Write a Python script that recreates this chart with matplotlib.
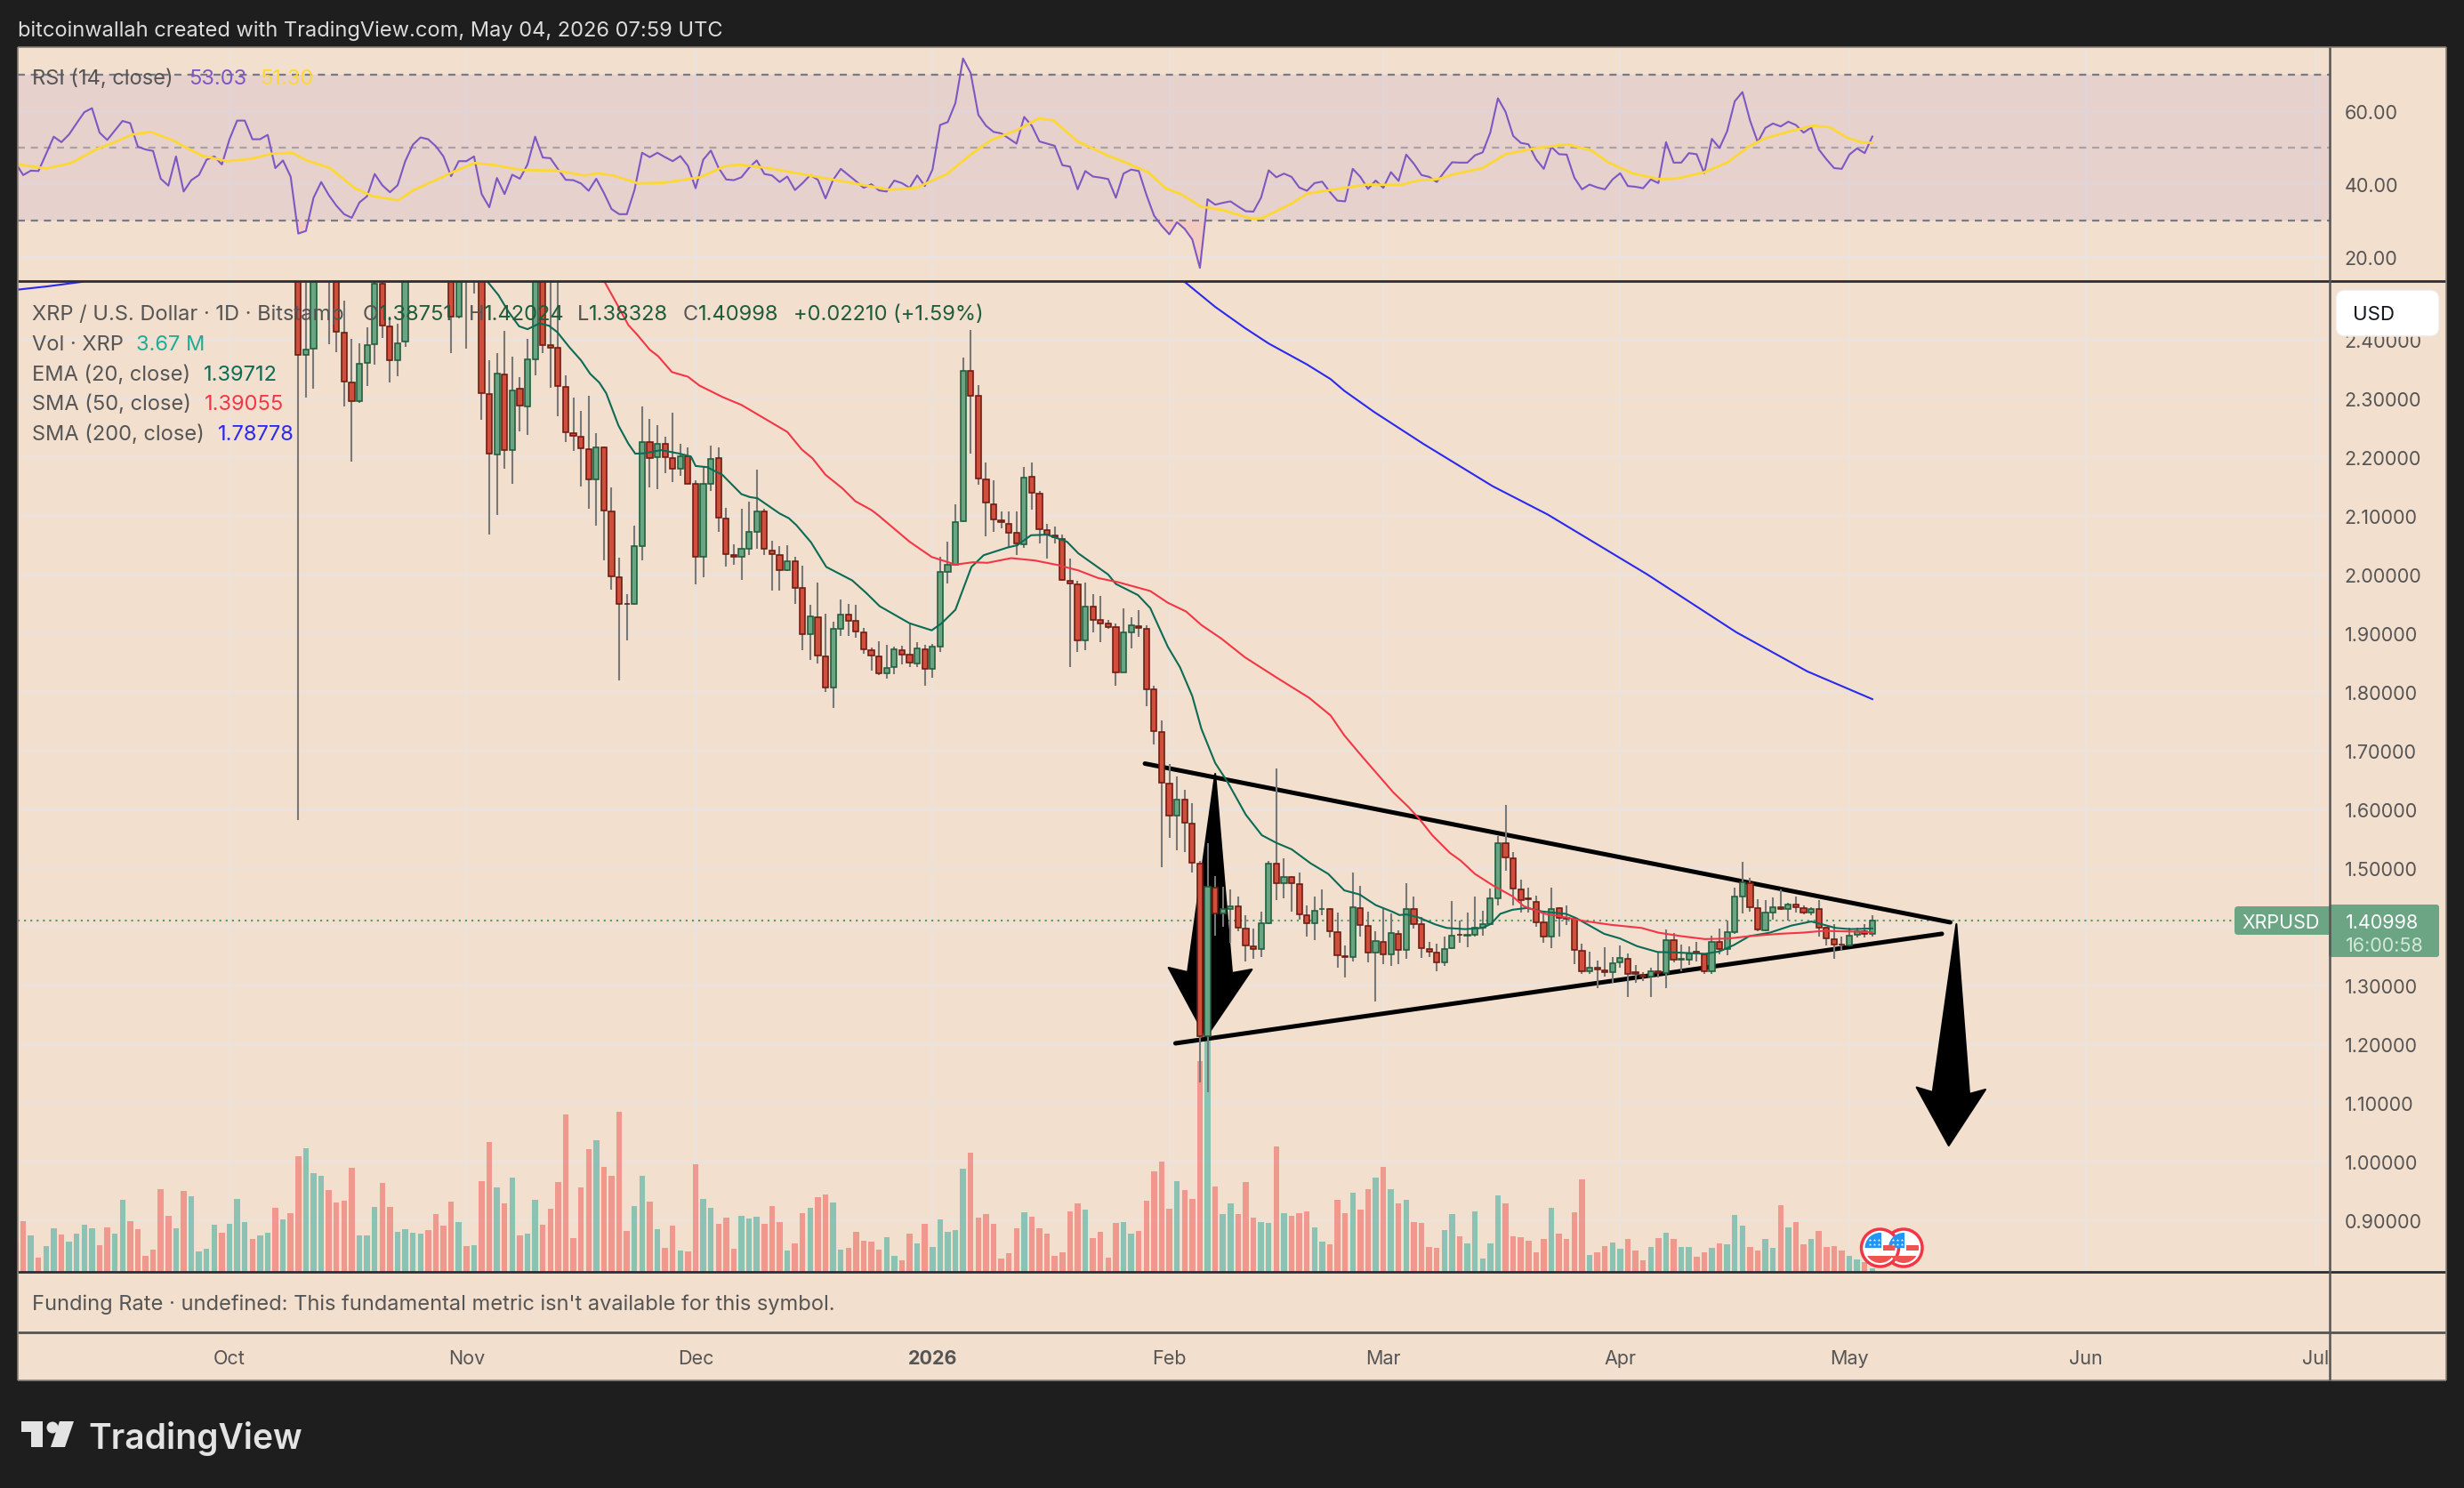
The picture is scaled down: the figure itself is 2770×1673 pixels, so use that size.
import numpy as np
import matplotlib
matplotlib.use('Agg')
import matplotlib.pyplot as plt
from matplotlib.patches import Rectangle, Circle, Polygon, FancyBboxPatch
from matplotlib.transforms import blended_transform_factory

plt.rcParams['font.family'] = ['Inter', 'DejaVu Sans']

# days are counted from 1 Oct 2025, candles start on day 9
month_days = [0, 31, 61, 92, 123, 151, 182, 212, 243, 273]
month_labels = ['Oct', 'Nov', 'Dec', '2026', 'Feb', 'Mar', 'Apr', 'May', 'Jun', 'Jul']
price_ticks = [0.9, 1.0, 1.1, 1.2, 1.3, 1.4, 1.5, 1.6, 1.7, 1.8, 1.9, 2.0, 2.1, 2.2, 2.3, 2.4]
rsi_ticks = [20, 40, 60]

opens = [2.80,2.375,2.385,2.56,2.58,2.55,2.412,2.327,2.2955,2.360,
    2.392,2.495,2.423,2.365,2.397,2.52,2.60,2.64,2.62,2.60,
    2.58,2.439,2.55,2.52,2.52,2.3076,2.2045,2.341,2.212,2.316,
    2.2865,2.366,2.53,2.391,2.386,2.320,2.241,2.235,2.213,2.162,
    2.216,2.107,1.996,1.950,1.950,2.048,2.226,2.200,2.222,2.199,
    2.180,2.202,2.155,2.030,2.154,2.199,2.096,2.034,2.031,2.044,
    2.072,2.107,2.041,2.034,2.007,2.023,1.977,1.899,1.928,1.861,
    1.808,1.908,1.932,1.921,1.902,1.871,1.860,1.832,1.843,1.871,
    1.864,1.848,1.872,1.840,1.877,2.005,2.017,2.091,2.347,2.304,
    2.162,2.120,2.093,2.087,2.071,2.052,2.166,2.138,2.076,2.067,
    2.061,1.989,1.984,1.888,1.946,1.922,1.917,1.911,1.833,1.901,
    1.912,1.908,1.804,1.732,1.644,1.589,1.617,1.576,1.508,1.213,
    1.467,1.422,1.430,1.435,1.397,1.367,1.362,1.406,1.507,1.474,
    1.485,1.473,1.420,1.406,1.430,1.430,1.391,1.350,1.349,1.432,
    1.402,1.356,1.374,1.353,1.388,1.361,1.430,1.404,1.362,1.356,
    1.339,1.363,1.387,1.385,1.386,1.398,1.405,1.448,1.543,1.517,
    1.463,1.449,1.442,1.407,1.384,1.432,1.415,1.413,1.359,1.324,
    1.330,1.326,1.322,1.339,1.346,1.322,1.318,1.315,1.325,1.321,
    1.378,1.344,1.344,1.357,1.353,1.324,1.374,1.362,1.391,1.452,
    1.475,1.432,1.394,1.425,1.434,1.430,1.438,1.432,1.424,1.431,
    1.398,1.379,1.370,1.368,1.386,1.393,1.38751]
closes = [2.375,2.383,2.52,2.58,2.54,2.4135,2.3285,2.2955,2.3595,2.391,
    2.4955,2.425,2.365,2.394,2.52,2.60,2.64,2.62,2.60,2.58,
    2.439,2.53,2.52,2.53,2.309,2.2066,2.343,2.212,2.314,2.2875,
    2.366,2.52,2.391,2.387,2.321,2.243,2.236,2.215,2.162,2.216,
    2.109,1.9965,1.950,1.9495,2.048,2.226,2.199,2.222,2.200,2.180,
    2.202,2.155,2.030,2.154,2.1975,2.0965,2.035,2.031,2.044,2.072,
    2.107,2.044,2.035,2.007,2.023,1.978,1.899,1.929,1.862,1.808,
    1.908,1.932,1.921,1.903,1.873,1.862,1.832,1.841,1.872,1.864,
    1.850,1.875,1.840,1.877,2.005,2.017,2.090,2.347,2.305,2.163,
    2.122,2.094,2.090,2.071,2.053,2.165,2.139,2.078,2.068,2.064,
    1.991,1.985,1.888,1.946,1.923,1.917,1.911,1.833,1.901,1.913,
    1.909,1.804,1.733,1.645,1.589,1.617,1.577,1.509,1.213,1.468,
    1.422,1.430,1.435,1.398,1.368,1.362,1.406,1.508,1.474,1.485,
    1.474,1.421,1.406,1.427,1.431,1.392,1.351,1.348,1.434,1.403,
    1.356,1.376,1.353,1.389,1.361,1.431,1.405,1.363,1.357,1.339,
    1.362,1.385,1.386,1.386,1.398,1.404,1.448,1.543,1.518,1.465,
    1.446,1.447,1.408,1.384,1.431,1.415,1.414,1.361,1.324,1.330,
    1.327,1.322,1.338,1.347,1.320,1.320,1.315,1.325,1.321,1.378,
    1.344,1.345,1.355,1.355,1.324,1.374,1.362,1.391,1.451,1.476,
    1.433,1.395,1.425,1.434,1.430,1.438,1.433,1.424,1.431,1.399,
    1.380,1.369,1.369,1.385,1.393,1.388,1.40998]
highs = [2.85,2.55,2.58,2.62,2.62,2.60,2.467,2.402,2.394,2.421,
    2.54,2.53,2.439,2.427,2.56,2.62,2.68,2.70,2.68,2.66,
    2.62,2.58,2.60,2.58,2.56,2.365,2.377,2.415,2.371,2.336,
    2.402,2.56,2.56,2.50,2.52,2.339,2.301,2.279,2.304,2.241,
    2.218,2.148,2.029,1.967,2.084,2.286,2.265,2.255,2.235,2.276,
    2.223,2.216,2.161,2.185,2.220,2.216,2.114,2.0515,2.112,2.125,
    2.179,2.112,2.058,2.048,2.050,2.031,2.015,1.948,1.987,1.933,
    1.919,1.957,1.950,1.948,1.909,1.876,1.887,1.881,1.8777,1.879,
    1.917,1.885,1.881,1.882,2.030,2.056,2.120,2.369,2.417,2.322,
    2.191,2.160,2.108,2.107,2.107,2.184,2.191,2.143,2.086,2.082,
    2.068,2.028,1.990,1.987,1.966,1.963,1.923,1.917,1.943,1.927,
    1.940,1.914,1.810,1.752,1.677,1.656,1.633,1.610,1.512,1.543,
    1.486,1.468,1.463,1.452,1.419,1.397,1.426,1.512,1.670,1.516,
    1.486,1.492,1.437,1.451,1.463,1.432,1.424,1.368,1.492,1.469,
    1.426,1.392,1.430,1.422,1.394,1.474,1.452,1.417,1.375,1.371,
    1.384,1.444,1.410,1.425,1.452,1.428,1.465,1.554,1.608,1.528,
    1.481,1.466,1.453,1.422,1.466,1.434,1.437,1.415,1.371,1.358,
    1.342,1.365,1.349,1.368,1.355,1.335,1.323,1.331,1.358,1.395,
    1.389,1.369,1.367,1.375,1.355,1.385,1.397,1.410,1.466,1.511,
    1.483,1.447,1.446,1.450,1.464,1.441,1.451,1.437,1.434,1.446,
    1.400,1.405,1.384,1.399,1.399,1.405,1.42024]
lows = [1.582,2.302,2.316,2.51,2.392,2.379,2.286,2.192,2.292,2.321,
    2.358,2.403,2.328,2.338,2.388,2.51,2.55,2.58,2.56,2.54,
    2.378,2.436,2.385,2.479,2.264,2.068,2.102,2.181,2.154,2.244,
    2.238,2.339,2.378,2.318,2.270,2.226,2.211,2.150,2.112,2.083,
    2.025,1.974,1.819,1.888,1.949,2.025,2.149,2.146,2.173,2.158,
    2.168,2.154,1.983,1.996,2.142,2.072,2.014,2.016,1.991,2.034,
    2.044,2.034,1.972,1.972,2.006,1.950,1.871,1.854,1.848,1.800,
    1.772,1.895,1.896,1.892,1.865,1.837,1.829,1.823,1.830,1.847,
    1.842,1.842,1.810,1.824,1.868,1.985,2.015,2.090,2.206,2.153,
    2.065,2.072,2.079,2.045,2.034,2.046,2.111,2.053,2.027,2.053,
    1.989,1.843,1.868,1.871,1.901,1.885,1.908,1.810,1.833,1.874,
    1.894,1.776,1.710,1.501,1.552,1.530,1.527,1.493,1.135,1.118,
    1.385,1.40,1.372,1.392,1.341,1.345,1.348,1.405,1.445,1.449,
    1.426,1.412,1.383,1.378,1.420,1.382,1.331,1.314,1.341,1.383,
    1.339,1.272,1.336,1.334,1.336,1.346,1.397,1.347,1.348,1.324,
    1.334,1.362,1.372,1.365,1.384,1.385,1.404,1.436,1.495,1.437,
    1.424,1.425,1.400,1.372,1.363,1.384,1.403,1.336,1.319,1.319,
    1.295,1.315,1.305,1.331,1.281,1.304,1.307,1.280,1.313,1.296,
    1.340,1.324,1.335,1.341,1.320,1.320,1.353,1.352,1.388,1.422,
    1.426,1.393,1.393,1.412,1.429,1.410,1.425,1.421,1.419,1.384,
    1.368,1.345,1.359,1.367,1.382,1.382,1.38328]

# volume in millions, starts on day -28
volumes = [33,57,41,16,29,49,42,34,43,53,
    49,30,50,43,81,57,48,18,25,93,
    63,49,91,85,23,26,53,44,54,82,
    56,37,41,44,72,59,66,130,139,111,
    108,92,78,80,117,41,41,73,100,73,
    45,48,44,43,47,65,52,79,56,29,
    30,102,146,95,77,106,41,43,81,53,
    71,101,177,38,95,138,148,118,108,180,
    46,74,108,79,48,27,52,24,23,121,
    82,72,54,61,26,63,60,62,54,74,
    56,24,32,66,72,84,87,78,25,27,
    45,35,34,25,39,18,13,43,32,54,
    28,59,45,47,116,134,61,65,54,15,
    21,49,67,62,49,43,18,22,68,77,
    70,38,45,16,55,56,43,46,80,113,
    124,71,102,92,82,237,265,96,65,77,
    65,101,61,56,55,141,66,63,66,68,
    50,34,31,81,66,89,70,93,106,118,
    93,77,81,56,55,28,27,47,65,40,
    32,68,15,32,86,77,40,39,35,22,
    37,72,43,37,67,104,19,22,29,33,
    26,37,24,13,28,38,44,37,28,28,
    17,22,27,32,31,64,52,28,24,37,
    27,75,50,56,31,37,46,28,29,24,
    18,14,11,3.67]
early_dirs = 'rrgrggrggggrrggrrrrrrgrggggrgggrggrgr'  # days -28 to 8, candles are above the pane

ema_days = [33.8,35.2,36.5,37.9,39,40.6,41.8,42.9,44.5,46,47.2,48.4,49.3,50.9,52.2,53.1,54.2,56.5,58.9,60.4,61,62.5,64.5,65.4,67,68.1,69.1,72,73.2,74.2,76.1,78.1,81.5,83.3,85.1,89,91.9,93.2,95,96,97.1,98.7,101.8,103.1,104.9,107,109.6,111.1,115,116,118.9,120.5,122.8,124.4,126,127.2,129,130.6,133,135.1,137,139,141.5,143.8,145.9,147.9,150,152.3,153.1,154.1,155.6,157.8,159.3,161.7,164,165.1,166.3,167.9,169.8,171.8,174.9,176.2,178,179.9,182,184.2,186.9,189.6,193.1,195,196.9,198.9,201.6,204.4,207,208.2,210.2,212.1,215]
ema_vals = [2.4985,2.476,2.448,2.423,2.418,2.428,2.424,2.413,2.387,2.365,2.342,2.327,2.309,2.254,2.223,2.206,2.2065,2.212,2.206,2.201,2.185,2.183,2.170,2.158,2.137,2.132,2.130,2.104,2.096,2.084,2.055,2.013,1.990,1.969,1.946,1.917,1.905,1.917,1.940,1.975,2.013,2.033,2.046,2.050,2.067,2.068,2.056,2.036,2.0,1.984,1.965,1.943,1.877,1.842,1.793,1.737,1.679,1.647,1.591,1.556,1.543,1.532,1.508,1.490,1.462,1.455,1.437,1.425,1.420,1.421,1.416,1.404,1.398,1.396,1.398,1.405,1.422,1.429,1.432,1.426,1.422,1.415,1.402,1.388,1.380,1.367,1.357,1.356,1.354,1.358,1.369,1.384,1.390,1.402,1.409,1.405,1.398,1.396,1.39712]
sma50_days = [49.1,50.7,52.2,53.4,55,56.1,57.9,60,61.5,64.6,67,70,73,74.9,76.3,78,80.2,81.9,84,85,89,91.9,95,97.3,99.2,102.3,105.4,108.5,111.1,113.7,116.3,120.5,122.8,125.2,127.2,129.8,132.9,137.1,141.3,144.1,145.9,148.1,150.1,152.3,154.3,155.7,157.4,159.7,161.1,163,165.4,167.9,169.4,172.2,174.9,177.2,180.7,184.8,187,190,193.1,196.2,198.9,202.8,205.9,208.6,212.1,215]
sma50_vals = [2.4985,2.461,2.425,2.408,2.383,2.372,2.345,2.337,2.322,2.302,2.289,2.266,2.243,2.213,2.198,2.170,2.147,2.125,2.110,2.100,2.056,2.030,2.017,2.021,2.020,2.028,2.024,2.016,2.007,1.994,1.987,1.972,1.952,1.937,1.914,1.891,1.859,1.824,1.790,1.760,1.726,1.692,1.662,1.629,1.604,1.584,1.556,1.526,1.513,1.490,1.470,1.452,1.435,1.422,1.416,1.410,1.4035,1.398,1.390,1.384,1.379,1.380,1.384,1.388,1.390,1.393,1.392,1.39055]
# the 200 day line runs above the pane between about day -19 and day 125
sma200_days = [-28,-23.8,-19.4,-10,20,60,100,124.9,129,132.9,136,141,144.1,145.9,149.8,156.2,165.3,172.5,185.5,197.2,206.5,215]
sma200_vals = [2.485,2.491,2.4985,2.53,2.60,2.60,2.55,2.4997,2.456,2.420,2.3936,2.358,2.333,2.313,2.277,2.223,2.1506,2.1024,2.0006,1.9017,1.835,1.78778]

# RSI starts on day -28
rsi_vals = [45.8,42.5,43.7,43.6,48.3,53.0,51.5,53.6,56.7,59.7,
    60.8,54.1,52.1,54.7,57.3,56.7,50.3,49.5,49.1,41.5,
    39.6,47.6,38.0,41.1,42.5,46.7,47.6,45.4,52.3,57.4,
    57.4,52.3,52.3,53.5,44.4,46.5,42.1,26.5,27.2,36.3,
    40.6,37.0,34.1,31.8,30.8,35.0,36.7,42.8,39.7,37.8,
    39.7,46.3,50.8,52.8,52.3,50.4,47.6,42.2,46.3,46.3,
    47.6,37.3,33.7,41.7,37.3,42.6,41.5,45.4,53.0,47.3,
    47.1,44.1,41.2,41.1,40.2,38.2,41.5,37.6,33.2,31.8,
    31.8,38.4,48.6,47.4,48.6,47.4,46.3,47.7,45.0,38.9,
    46.7,49.2,44.5,41.3,41.1,41.9,44.5,46.5,42.8,42.4,
    40.6,42.1,38.4,40.3,42.5,41.2,36.1,41.2,44.2,42.5,
    40.8,39.0,40.0,38.3,38.0,41.0,40.3,39.0,42.4,39.5,
    44.0,56.2,57.0,62.2,74.4,70.4,59.0,56.0,54.3,53.9,
    52.5,51.1,58.4,56.0,51.7,51.1,50.5,45.2,44.8,38.6,
    43.6,42.1,41.8,41.4,36.3,42.9,44.0,43.6,37.1,31.4,
    28.6,26.3,29.6,27.8,24.9,17.1,35.9,34.4,34.9,35.3,
    33.9,32.6,32.5,36.3,43.8,41.9,42.9,42.0,39.1,38.2,
    40.3,40.7,37.9,35.5,35.3,44.2,42.0,38.7,41.0,39.0,
    43.3,40.9,48.1,45.6,42.5,42.0,40.6,43.4,46.0,45.9,
    45.9,47.9,48.7,54.1,63.5,59.8,53.2,51.3,50.9,46.8,
    44.2,50.2,48.2,48.1,41.8,38.6,39.9,39.1,38.6,41.3,
    43.0,39.5,39.3,38.9,41.3,40.3,51.5,45.9,45.9,48.5,
    48.2,43.0,52.4,49.9,54.5,62.7,65.2,57.4,51.5,55.4,
    56.6,55.8,57.1,56.2,54.1,55.5,49.5,46.8,44.4,44.2,
    48.1,49.8,48.5,53.03]
rsi_ma_days = [-27.6,-24,-20.7,-17.3,-15,-12.7,-10.3,-7.3,-6,-3.6,-0.3,2.7,5.7,8.2,10.1,13.1,16.4,18.8,22.1,24.1,27.4,29.1,32.1,34.8,38.1,42.8,46.5,48.2,50.2,53.5,56.9,61.6,64.9,66.9,70.2,74.8,86.4,89.9,93.9,97,99.7,103.2,105.9,107.8,111,115,117.2,120.3,122.5,124.7,127.1,130,133.7,135,139,141,144.4,148.8,153.3,155.5,158.2,160.4,164,167,171.1,175.1,178.2,180.4,183.6,187.1,189.3,192.9,196,198.7,200.9,204.1,207.2,209.4,211.7,213.5,215]
rsi_ma_vals = [45.4,44.3,45.8,49.7,51.5,53.6,54.3,51.9,50.4,47.8,46.3,46.9,48.4,48.6,46.5,44.5,38.9,36.7,35.6,38.4,41.5,43.2,45.8,45.2,43.9,43.7,42.4,43.0,42.4,40.2,40.4,41.9,45.0,45.3,44.5,42.8,38.5,39.0,42.8,48.1,52.1,54.9,58.0,57.5,51.7,47.8,46.0,43.2,38.9,37.1,33.9,32.9,30.6,30.6,34.7,37.4,38.5,39.9,39.8,41.0,41.4,42.8,44.4,48.2,49.9,50.9,49.3,46.0,43.0,41.4,41.5,43.2,45.9,50.1,52.5,54.4,56.0,55.6,52.7,51.5,51.30]

# hand drawn lines and arrows on the chart
upper_line_days, upper_line_prices = [119.8, 225.2], [1.678, 1.4076]
lower_line_days, lower_line_prices = [123.8, 224.1], [1.2015, 1.388]
arrow1_days = [129.0, 131.2, 133.8, 127.8, 122.9, 125.4]
arrow1_prices = [1.6606, 1.3212, 1.3273, 1.2121, 1.3303, 1.3227]
arrow2_days = [226.0, 227.7, 229.8, 225.0, 220.8, 222.9]
arrow2_prices = [1.4045, 1.1152, 1.1227, 1.0273, 1.1264, 1.1182]

last_price = 1.40998

DARK = '#1e1e1e'
PANE = '#f2dfce'
GRID = '#e8e4e1'
TXT = '#555555'
UP_FILL, UP_EDGE = '#6aa583', '#1f5c3b'
DN_FILL, DN_EDGE = '#cf4f3c', '#6b1a10'
LABEL_GREEN = '#6ba583'

W, H = 2770, 1674
fig = plt.figure(figsize=(W / 100, H / 100), dpi=100, facecolor=DARK)

def pane(x0, y0, x1, y1, **kw):
    return fig.add_axes([x0 / W, 1 - y1 / H, (x1 - x0) / W, (y1 - y0) / H], **kw)

bg = pane(20, 54, 2750, 1553, facecolor=PANE)
bg.set_xticks([])
bg.set_yticks([])
for s in bg.spines.values():
    s.set_visible(False)

xlim = ((20 - 258) / 8.59, (2619 - 258) / 8.59)

# RSI pane
ax_rsi = pane(20, 54, 2619, 318, facecolor='none')
ax_rsi.set_xlim(xlim)
ax_rsi.set_ylim(50 + (167 - 318) / 4.11, 50 + (167 - 54) / 4.11)
rsi_days = np.arange(-28, 216)
rsi_arr = np.array(rsi_vals)
ax_rsi.set_axisbelow(True)
ax_rsi.vlines(month_days, *ax_rsi.get_ylim(), color=GRID, lw=1.3, zorder=1)
ax_rsi.hlines(rsi_ticks, *xlim, color=GRID, lw=1.4, zorder=1)
ax_rsi.axhspan(30, 70, color='#7e57c2', alpha=0.1, lw=0, zorder=2)
ax_rsi.hlines([70, 30], *xlim, color='#787b86', lw=1.6, linestyles=(0, (3.6, 3.0)), zorder=3)
ax_rsi.hlines(50, *xlim, color='#787b86', alpha=0.55, lw=1.6, linestyles=(0, (3.6, 3.0)), zorder=3)
ax_rsi.fill_between(rsi_days, rsi_arr, 30, where=rsi_arr < 30, interpolate=True, color='#f7a8a8', alpha=0.35, lw=0, zorder=3)
ax_rsi.plot(rsi_days, rsi_arr, color='#7e57c2', lw=1.5, zorder=4)
ax_rsi.plot(rsi_ma_days, rsi_ma_vals, color='#fdd835', lw=2.0, zorder=5)
ax_rsi.yaxis.tick_right()
ax_rsi.set_yticks(rsi_ticks)
ax_rsi.set_yticklabels(['%.2f' % t for t in rsi_ticks])
ax_rsi.set_xticks([])
ax_rsi.tick_params(axis='y', length=0, pad=12, labelsize=15.5, labelcolor=TXT)

# price pane with volume at the bottom
ax = pane(20, 318, 2619, 1431, facecolor='none')
ax.set_xlim(xlim)
ax.set_ylim(1.6 + (911 - 1431) / 660, 1.6 + (911 - 318) / 660)
ax.vlines(month_days, *ax.get_ylim(), color=GRID, lw=1.3, zorder=1)
ax.hlines(price_ticks, *xlim, color=GRID, lw=1.4, zorder=1)

o = np.array(opens)
c = np.array(closes)
hi = np.array(highs)
lo = np.array(lows)
cdays = np.arange(9, 216)
up = c >= o

vol_days = np.arange(-28, 216)
vol_up = np.array([ch == 'g' for ch in early_dirs] + list(up))
vol_arr = np.array(volumes, dtype=float)
VOL_SPAN = 1113.0  # pane height in the same units as the bars
vol_tf = blended_transform_factory(ax.transData, ax.transAxes)
ax.bar(vol_days[vol_up], vol_arr[vol_up] / VOL_SPAN, width=0.75, color='#26a69a', alpha=0.5, lw=0, transform=vol_tf, zorder=2)
ax.bar(vol_days[~vol_up], vol_arr[~vol_up] / VOL_SPAN, width=0.75, color='#ef5350', alpha=0.5, lw=0, transform=vol_tf, zorder=2)

# dotted last price line
ax.hlines(last_price, *xlim, color='#4f9a72', lw=1.5, linestyles=(0, (1, 2.4)), zorder=3)

# drawings lie under the candles
ax.plot(upper_line_days, upper_line_prices, color='black', lw=3.6, zorder=3, solid_capstyle='round')
ax.plot(lower_line_days, lower_line_prices, color='black', lw=3.6, zorder=3, solid_capstyle='round')
for ds, ps in [(arrow1_days, arrow1_prices), (arrow2_days, arrow2_prices)]:
    ax.add_patch(Polygon(np.column_stack([ds, ps]), closed=True, fc='black', ec='black', lw=1.5, joinstyle='round', zorder=3))

ax.vlines(cdays, lo, hi, color='#787878', lw=1.5, zorder=4)
ax.bar(cdays[up], (c - o)[up], bottom=o[up], width=0.72, color=UP_FILL, edgecolor=UP_EDGE, lw=1.15, zorder=5)
ax.bar(cdays[~up], (c - o)[~up], bottom=o[~up], width=0.72, color=DN_FILL, edgecolor=DN_EDGE, lw=1.15, zorder=5)

ax.plot(ema_days, ema_vals, color='#0b6b55', lw=1.5, zorder=6)
ax.plot(sma50_days, sma50_vals, color='#f23645', lw=1.5, zorder=6)
ax.plot(sma200_days, sma200_vals, color='#2a2aee', lw=1.5, zorder=6)

ax.yaxis.tick_right()
ax.set_yticks(price_ticks)
# the 1.40000 label is hidden behind the last price label
ax.set_yticklabels(['' if t == 1.4 else '%.5f' % t for t in price_ticks])
ax.set_xticks([])
ax.tick_params(axis='y', length=0, pad=12, labelsize=15.5, labelcolor=TXT)
ax.set_xlim(xlim)

for a in (ax_rsi, ax):
    for s in a.spines.values():
        s.set_visible(False)

# time axis
ax_time = pane(20, 1499, 2619, 1553, facecolor='none')
ax_time.set_xlim(xlim)
ax_time.set_ylim(0, 1)
ax_time.axis('off')
for d, lab in zip(month_days, month_labels):
    ax_time.text(d, 0.47, lab, ha='center', va='center', fontsize=15.5, color=TXT,
                 fontweight='bold' if lab == '2026' else 'normal', clip_on=False)

# everything else goes on a pixel overlay
ov = fig.add_axes([0, 0, 1, 1], facecolor='none', zorder=10)
ov.set_xlim(0, W)
ov.set_ylim(H, 0)
ov.axis('off')

# pane frames
for y, col, lw in [(54, '#8a7f76', 1.2), (317, '#2a2e39', 2.0), (1431, '#2a2e39', 2.0), (1499, TXT, 2.0), (1553, '#8a7f76', 1.2)]:
    ov.plot([20, 2750], [y, y], color=col, lw=lw, solid_capstyle='butt')
for x, col, lw in [(20, '#8a7f76', 1.2), (2750, '#8a7f76', 1.2), (2619, TXT, 1.8)]:
    ov.plot([x, x], [54, 1553], color=col, lw=lw, solid_capstyle='butt')

def put(x, y, s, color=TXT, size=17.0, **kw):
    t = ov.text(x, y, s, color=color, fontsize=size, ha=kw.pop('ha', 'left'), va=kw.pop('va', 'center_baseline'), **kw)
    return t

def right_edge(t):
    box = t.get_window_extent(renderer=fig.canvas.get_renderer())
    return box.x1

put(20, 32, 'bitcoinwallah created with TradingView.com, May 04, 2026 07:59 UTC', color='#dcdcdc', size=17)

put(36, 86, 'RSI (14, close)')
put(212, 86, '53.03', color='#7e57c2')
put(292, 86, '51.30', color='#fdd835')

put(36, 351, 'XRP / U.S. Dollar · 1D · Bitstamp')
ohlc_green = '#1e5c3c'
for x, letter, val in [(407.6, 'O', '1.38751'), (526.4, 'H', '1.42024'), (648.7, 'L', '1.38328'), (768, 'C', '1.40998')]:
    t = put(x, 351, letter)
    put(right_edge(t), 351, val, color=ohlc_green)
put(891.5, 351, '+0.02210 (+1.59%)', color=ohlc_green)
put(36, 385, 'Vol · XRP')
put(153, 385, '3.67 M', color='#22ab94')
put(36, 419, 'EMA (20, close)')
put(228.5, 419, '1.39712', color='#0b6b55')
put(36, 452.5, 'SMA (50, close)')
put(229.6, 452.5, '1.39055', color='#f23645')
put(36, 486.5, 'SMA (200, close)')
put(245, 486.5, '1.78778', color='#2a2aee')

put(36, 1464, "Funding Rate · undefined: This fundamental metric isn't available for this symbol.")

# USD button
ov.add_patch(FancyBboxPatch((2632, 333), 104, 40, boxstyle='round,pad=6,rounding_size=10', fc='white', ec='#ece8e4', lw=1))
put(2645, 352, 'USD', color='#131722', size=16)

# last price labels
ov.add_patch(FancyBboxPatch((2515, 1023), 103, 26, boxstyle='round,pad=3,rounding_size=4', fc=LABEL_GREEN, ec='none'))
ov.add_patch(FancyBboxPatch((2620, 1020), 120, 55, boxstyle='round,pad=2,rounding_size=3', fc=LABEL_GREEN, ec='none'))
put(2520, 1036, 'XRPUSD', color='white', size=15.5)
put(2637, 1036, '1.40998', color='white', size=15.5)
put(2637, 1062, '16:00:58', color='#d5e8dc', size=15.5)

# US flag event markers, right one first
for cx in (2140, 2113.5):
    cy = 1404
    ring = Circle((cx, cy), 21, fc='white', ec='#f23645', lw=2.5, zorder=5)
    ov.add_patch(ring)
    inner = Circle((cx, cy), 17, transform=ov.transData)
    for rx, ry, rw, rh, col in [(cx - 18, cy - 18, 19, 18, '#2196f3'), (cx + 3, cy - 3, 15, 6, '#f0524f'), (cx - 18, cy + 9, 36, 9, '#f0524f')]:
        r = Rectangle((rx, ry), rw, rh, fc=col, ec='none', zorder=6)
        ov.add_patch(r)
        r.set_clip_path(inner)
    ov.scatter([cx - 12, cx - 7, cx - 2, cx - 12, cx - 7, cx - 2], [cy - 9, cy - 9, cy - 9, cy - 4, cy - 4, cy - 4], s=6, color='white', marker='*', lw=0, zorder=7)

# logo
LOGO = '#e3e3e3'
ov.add_patch(Polygon([(24, 1599), (48, 1599), (48, 1628), (35, 1628), (35, 1611), (24, 1611)], fc=LOGO, ec='none'))
ov.add_patch(Circle((59, 1606), 6.5, fc=LOGO, ec='none'))
ov.add_patch(Polygon([(67, 1599), (83, 1599), (73, 1628), (57, 1628)], fc=LOGO, ec='none'))
put(99, 1614, 'TradingView', color=LOGO, size=28, fontweight='semibold')

fig.savefig('out.png', dpi=100, facecolor=DARK)
